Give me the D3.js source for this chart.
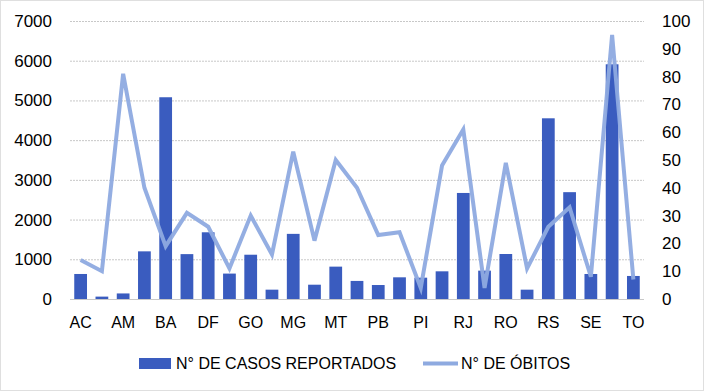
<!DOCTYPE html>
<html>
<head>
<meta charset="utf-8">
<script src="https://cdn.jsdelivr.net/npm/d3@7"></script>
<style>
  html, body { margin: 0; padding: 0; background: #fff; }
  svg { display: block; font-family: "Liberation Sans", Arial, sans-serif; }
</style>
</head>
<body>
<div id="chart"></div>
<script>
// estados (27), só metade dos rótulos aparece no eixo
const estados = ["AC","AL","AM","AP","BA","CE","DF","ES","GO","MA","MG","MS","MT","PA",
                 "PB","PE","PI","PR","RJ","RN","RO","RR","RS","SC","SE","SP","TO"];
const casos = [630, 60, 140, 1200, 5080, 1130, 1680, 640, 1115, 235, 1640, 360, 815, 455,
               352, 546, 537, 697, 2670, 714, 1133, 235, 4550, 2690, 630, 5910, 580];
const obitos = [14, 10, 81, 40, 19, 31, 26, 11, 30, 16, 53, 21, 50, 40,
                23, 24, 4, 48, 61, 4, 49, 11, 26, 33, 8, 95, 7];
const ticksEsq = [0, 1000, 2000, 3000, 4000, 5000, 6000, 7000];
const ticksDir = [0, 10, 20, 30, 40, 50, 60, 70, 80, 90, 100];

const W = 704, H = 391;
const barColor = "#3a5cbf", lineColor = "#8eaae0";

const svg = d3.select("#chart").append("svg")
  .attr("width", W).attr("height", H);

// borda pontilhada
svg.append("rect")
  .attr("x", 0.5).attr("y", 0.5).attr("width", W - 1).attr("height", H - 1)
  .attr("fill", "none").attr("stroke", "#bfbfbf").attr("stroke-dasharray", "1,1");

const x = d3.scaleBand().domain(estados).range([70, 644]).paddingInner(0.4).paddingOuter(0.2);
const yL = d3.scaleLinear().domain([0, 7000]).range([299, 21]);
const yR = d3.scaleLinear().domain([0, 100]).range([299, 21]);

// grade
svg.append("g")
  .selectAll("line")
  .data(ticksEsq.slice(1))
  .join("line")
  .attr("x1", 70).attr("x2", 644)
  .attr("y1", d => yL(d) + 0.5).attr("y2", d => yL(d) + 0.5)
  .attr("stroke", "#c8c8c8").attr("stroke-dasharray", "2,1");

// eixo esquerdo
const axL = svg.append("g")
  .attr("transform", "translate(60,0)")
  .call(d3.axisLeft(yL).tickValues(ticksEsq).tickSize(0).tickPadding(0).tickFormat(d3.format("d")));
axL.select(".domain").remove();
axL.selectAll("text").attr("x", -8).style("font-size", "17px").attr("fill", "#000");

// eixo direito
const axR = svg.append("g")
  .attr("transform", "translate(662,0)")
  .call(d3.axisRight(yR).tickValues(ticksDir).tickSize(0).tickPadding(0));
axR.select(".domain").remove();
axR.selectAll("text").style("font-size", "17px").attr("fill", "#000");

// barras
svg.append("g")
  .selectAll("rect")
  .data(estados)
  .join("rect")
  .attr("x", d => x(d))
  .attr("width", x.bandwidth())
  .attr("y", (d, i) => yL(casos[i]))
  .attr("height", (d, i) => yL(0) - yL(casos[i]))
  .attr("fill", barColor);

// linha de base
svg.append("line")
  .attr("x1", 70).attr("x2", 644)
  .attr("y1", yL(0) + 0.5).attr("y2", yL(0) + 0.5)
  .attr("stroke", "#c8c8c8");

// eixo x (rótulos alternados)
const axX = svg.append("g")
  .attr("transform", `translate(0,${yL(0)})`)
  .call(d3.axisBottom(x).tickSize(0).tickPadding(18)
    .tickFormat((d, i) => i % 2 === 0 ? d : ""));
axX.select(".domain").remove();
axX.selectAll("text").style("font-size", "16px").attr("fill", "#000");

// linha de óbitos
const line = d3.line()
  .x((d, i) => x(estados[i]) + x.bandwidth() / 2)
  .y(d => yR(d));
svg.append("path")
  .datum(obitos)
  .attr("d", line)
  .attr("fill", "none")
  .attr("stroke", lineColor)
  .attr("stroke-width", 4)
  .attr("stroke-linejoin", "miter")
  .attr("opacity", 0.95);

// legenda
const leg = svg.append("g").style("font-size", "16px");
leg.append("rect").attr("x", 139).attr("y", 358).attr("width", 32).attr("height", 11).attr("fill", barColor);
leg.append("text").attr("x", 176).attr("y", 369).text("N° DE CASOS REPORTADOS");
leg.append("line").attr("x1", 423).attr("x2", 458).attr("y1", 363.5).attr("y2", 363.5)
  .attr("stroke", lineColor).attr("stroke-width", 4);
leg.append("text").attr("x", 461).attr("y", 369).text("N° DE ÓBITOS");
</script>
</body>
</html>
